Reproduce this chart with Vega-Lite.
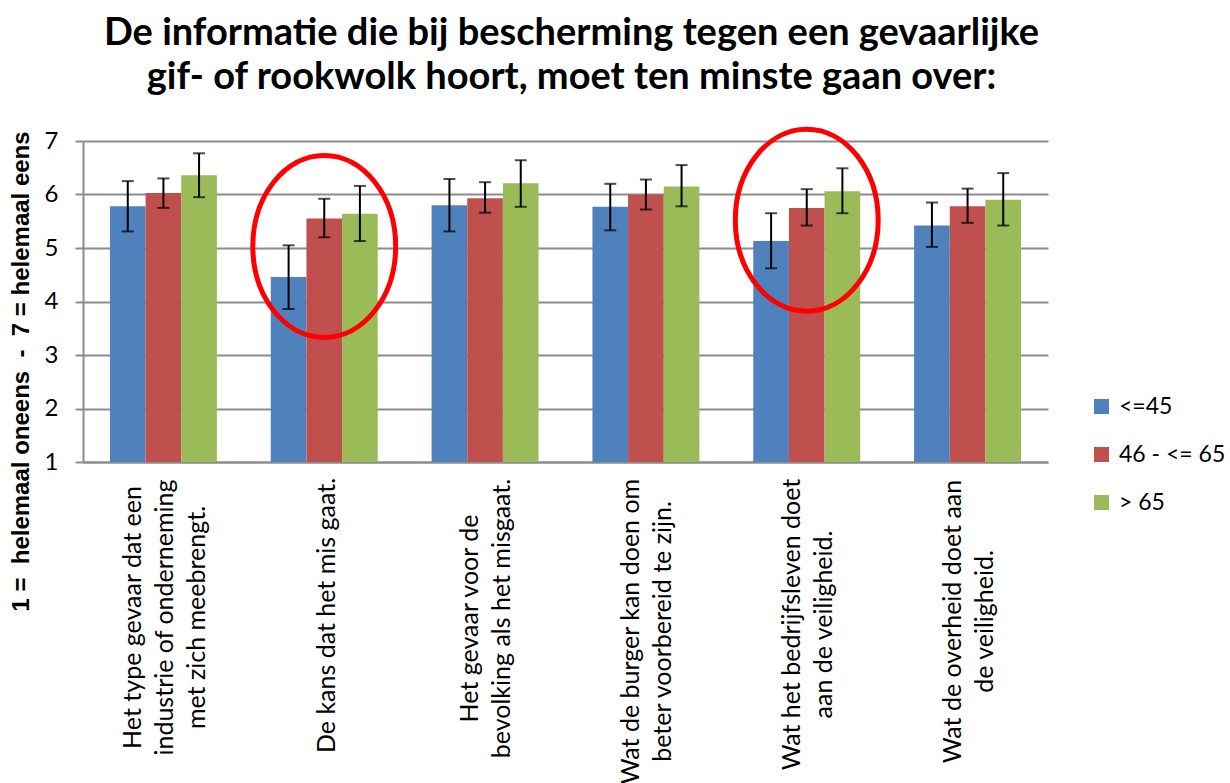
{
  "$schema": "https://vega.github.io/schema/vega-lite/v6.json",
  "autosize": {"type": "none"},
  "padding": {"left": 83, "top": 141, "right": 182, "bottom": 321},
  "width": 965,
  "height": 321,
  "background": "white",
  "title": {
    "text": ["De informatie die bij bescherming tegen een gevaarlijke", "gif- of rookwolk hoort, moet ten minste gaan over:"],
    "font": "Lato",
    "fontSize": 38,
    "fontWeight": "bold",
    "color": "#000000",
    "anchor": "middle",
    "lineHeight": 44,
    "offset": 22,
    "dx": 6
  },
  "datasets": {
    "bars": [
      {"cat": "Het type gevaar dat een|industrie of onderneming|met zich meebrengt.", "series": "<=45", "value": 5.78, "lo": 5.31, "hi": 6.25},
      {"cat": "Het type gevaar dat een|industrie of onderneming|met zich meebrengt.", "series": "46 - <= 65", "value": 6.03, "lo": 5.75, "hi": 6.30},
      {"cat": "Het type gevaar dat een|industrie of onderneming|met zich meebrengt.", "series": "> 65", "value": 6.36, "lo": 5.95, "hi": 6.77},
      {"cat": "De kans dat het mis gaat.", "series": "<=45", "value": 4.46, "lo": 3.86, "hi": 5.05},
      {"cat": "De kans dat het mis gaat.", "series": "46 - <= 65", "value": 5.55, "lo": 5.20, "hi": 5.92},
      {"cat": "De kans dat het mis gaat.", "series": "> 65", "value": 5.64, "lo": 5.13, "hi": 6.16},
      {"cat": "Het gevaar voor de|bevolking als het misgaat.", "series": "<=45", "value": 5.80, "lo": 5.31, "hi": 6.29},
      {"cat": "Het gevaar voor de|bevolking als het misgaat.", "series": "46 - <= 65", "value": 5.93, "lo": 5.66, "hi": 6.23},
      {"cat": "Het gevaar voor de|bevolking als het misgaat.", "series": "> 65", "value": 6.21, "lo": 5.77, "hi": 6.64},
      {"cat": "Wat de burger kan doen om|beter voorbereid te zijn.", "series": "<=45", "value": 5.77, "lo": 5.33, "hi": 6.20},
      {"cat": "Wat de burger kan doen om|beter voorbereid te zijn.", "series": "46 - <= 65", "value": 6.00, "lo": 5.72, "hi": 6.28},
      {"cat": "Wat de burger kan doen om|beter voorbereid te zijn.", "series": "> 65", "value": 6.15, "lo": 5.78, "hi": 6.55},
      {"cat": "Wat het bedrijfsleven doet|aan de veiligheid.", "series": "<=45", "value": 5.13, "lo": 4.62, "hi": 5.65},
      {"cat": "Wat het bedrijfsleven doet|aan de veiligheid.", "series": "46 - <= 65", "value": 5.75, "lo": 5.42, "hi": 6.10},
      {"cat": "Wat het bedrijfsleven doet|aan de veiligheid.", "series": "> 65", "value": 6.06, "lo": 5.65, "hi": 6.49},
      {"cat": "Wat de overheid doet aan|de veiligheid.", "series": "<=45", "value": 5.42, "lo": 5.02, "hi": 5.85},
      {"cat": "Wat de overheid doet aan|de veiligheid.", "series": "46 - <= 65", "value": 5.78, "lo": 5.47, "hi": 6.11},
      {"cat": "Wat de overheid doet aan|de veiligheid.", "series": "> 65", "value": 5.90, "lo": 5.42, "hi": 6.40}
    ],
    "circles": [
      {"cat": "De kans dat het mis gaat.", "center": 5.03},
      {"cat": "Wat het bedrijfsleven doet|aan de veiligheid.", "center": 5.52}
    ]
  },
  "encoding": {
    "x": {
      "field": "cat",
      "type": "nominal",
      "sort": null,
      "scale": {"paddingInner": 0.335, "paddingOuter": 0.1675},
      "axis": {
        "title": null,
        "labelExpr": "split(datum.label, '|')",
        "labelAngle": -90,
        "labelAlign": "center",
        "labelBaseline": "middle",
        "labelFont": "Lato",
        "labelFontSize": 25,
        "labelColor": "#000000",
        "labelLineHeight": 32,
        "labelLimit": 500,
        "labelOverlap": false,
        "labelOffset": {
          "condition": [
            {"test": "length(split(datum.value, '|')) == 3", "value": -30},
            {"test": "length(split(datum.value, '|')) == 2", "value": -15}
          ],
          "value": 3
        },
        "labelPadding": {
          "condition": [
            {"test": "datum.value == 'De kans dat het mis gaat.'", "value": 153},
            {"test": "datum.value == 'Het gevaar voor de|bevolking als het misgaat.'", "value": 156},
            {"test": "datum.value == 'Wat de burger kan doen om|beter voorbereid te zijn.'", "value": 169},
            {"test": "datum.value == 'Wat het bedrijfsleven doet|aan de veiligheid.'", "value": 162},
            {"test": "datum.value == 'Wat de overheid doet aan|de veiligheid.'", "value": 159}
          ],
          "value": 155
        },
        "ticks": false,
        "domain": true,
        "domainColor": "#8c8c8c",
        "domainWidth": 2,
        "grid": false
      }
    }
  },
  "layer": [
    {
      "data": {"name": "bars"},
      "mark": {"type": "bar"},
      "encoding": {
        "xOffset": {"field": "series", "type": "nominal", "sort": null, "scale": {"paddingInner": 0, "paddingOuter": 0}},
        "y": {
          "field": "value",
          "type": "quantitative",
          "scale": {"domain": [1, 7], "zero": false, "nice": false},
          "axis": {
            "values": [1, 2, 3, 4, 5, 6, 7],
            "format": "d",
            "title": "1 =\u00a0 helemaal oneens\u00a0 - \u00a07 = helemaal eens",
            "titleFont": "Liberation Sans",
            "titleFontSize": 24,
            "titleFontWeight": "bold",
            "titleColor": "#000000",
            "titleAngle": -90,
            "titleAlign": "center",
            "titleBaseline": "middle",
            "titleX": -62,
            "titleY": 230,
            "labelFont": "Lato",
            "labelFontSize": 24,
            "labelColor": "#000000",
            "labelPadding": 17,
            "tickSize": 8,
            "tickColor": "#8c8c8c",
            "tickWidth": 2,
            "domainColor": "#8c8c8c",
            "domainWidth": 2,
            "grid": true,
            "gridColor": "#8c8c8c",
            "gridWidth": 2
          }
        },
        "y2": {"datum": 1},
        "color": {
          "field": "series",
          "type": "nominal",
          "sort": null,
          "scale": {"domain": ["<=45", "46 - <= 65", "> 65"], "range": ["#4F81BD", "#C0504D", "#9BBB59"]},
          "legend": {
            "title": null,
            "orient": "none",
            "legendX": 1007,
            "legendY": 254,
            "padding": 0,
            "symbolType": "square",
            "symbolSize": 225,
            "symbolStrokeWidth": 0,
            "labelFont": "Lato",
            "labelFontSize": 23,
            "labelColor": "#000000",
            "labelOffset": 6,
            "rowPadding": 24
          }
        }
      }
    },
    {
      "data": {"name": "bars"},
      "mark": {"type": "rule", "color": "#000000", "strokeWidth": 2},
      "encoding": {
        "xOffset": {"field": "series", "type": "nominal", "sort": null},
        "y": {"field": "lo", "type": "quantitative"},
        "y2": {"field": "hi"}
      }
    },
    {
      "data": {"name": "bars"},
      "mark": {"type": "tick", "color": "#000000", "thickness": 2, "size": 12},
      "encoding": {
        "xOffset": {"field": "series", "type": "nominal", "sort": null},
        "y": {"field": "lo", "type": "quantitative"}
      }
    },
    {
      "data": {"name": "bars"},
      "mark": {"type": "tick", "color": "#000000", "thickness": 2, "size": 12},
      "encoding": {
        "xOffset": {"field": "series", "type": "nominal", "sort": null},
        "y": {"field": "hi", "type": "quantitative"}
      }
    },
    {
      "data": {"name": "circles"},
      "mark": {
        "type": "point",
        "shape": "M 0 -1 C 0.434 -1 0.785 -0.552 0.785 0 C 0.785 0.552 0.434 1 0 1 C -0.434 1 -0.785 0.552 -0.785 0 C -0.785 -0.552 -0.434 -1 0 -1 Z",
        "filled": false,
        "stroke": "#FF0000",
        "strokeWidth": 5,
        "opacity": 1,
        "size": 33124
      },
      "encoding": {
        "y": {"field": "center", "type": "quantitative"}
      }
    }
  ],
  "config": {
    "view": {"stroke": null}
  }
}
